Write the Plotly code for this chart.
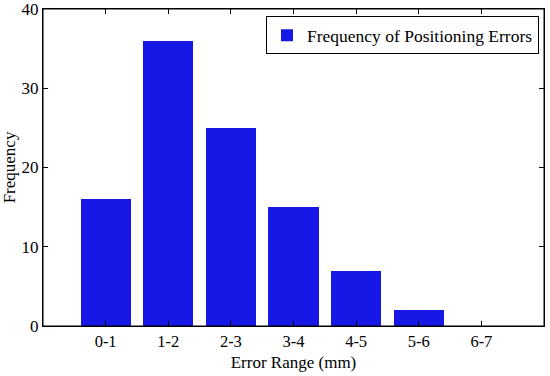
import plotly.graph_objects as go

categories = ["0-1", "1-2", "2-3", "3-4", "4-5", "5-6", "6-7"]
frequency = [16, 36, 25, 15, 7, 2, 0]
y_ticks = [0, 10, 20, 30, 40]

positions = list(range(1, len(categories) + 1))
FONT = "Liberation Serif"

fig = go.Figure()
fig.add_trace(go.Bar(
    x=positions, y=frequency, width=0.8,
    marker=dict(color="#1717e6", line=dict(width=0)),
    name="Frequency of Positioning Errors", showlegend=True,
))

fig.add_shape(type="rect", xref="paper", yref="paper", x0=0, x1=1, y0=0, y1=1,
              line=dict(color="black", width=1), layer="above")

tick_style = dict(ticks="inside", ticklen=5, tickcolor="#000000", tickwidth=1.2,
                  showgrid=False, zeroline=False, automargin=False,
                  layer="above traces")

fig.update_layout(
    width=550, height=376,
    margin=dict(l=43, r=6, t=9, b=50),
    plot_bgcolor="white", paper_bgcolor="white",
    font=dict(family=FONT, size=16, color="black"),
    bargap=0,
    showlegend=True,
    legend=dict(
        x=0.99, y=0.977, xanchor="right", yanchor="top",
        bgcolor="white", bordercolor="black", borderwidth=1,
        font=dict(family=FONT, size=17.5),
        itemsizing="constant",
        tracegroupgap=0,
    ),
    xaxis=dict(
        range=[0, 8], tickmode="array", tickvals=positions, ticktext=categories,
        showline=True, linecolor="black", linewidth=1, mirror="allticks",
        title=dict(text="Error Range (mm)", standoff=6, font=dict(size=17)),
        tickfont=dict(size=16.5),
        **tick_style,
    ),
    yaxis=dict(
        range=[0, 40], tickmode="array", tickvals=y_ticks,
        showline=True, linecolor="black", linewidth=1, mirror="allticks",
        title=dict(text="Frequency", standoff=8, font=dict(size=17)),
        tickfont=dict(size=17),
        ticklabeloverflow="allow",
        **tick_style,
    ),
)

fig.write_html(
    "out.html",
    config={"displayModeBar": False},
    post_script="document.body.style.margin='0px';document.body.style.overflow='hidden';",
)
